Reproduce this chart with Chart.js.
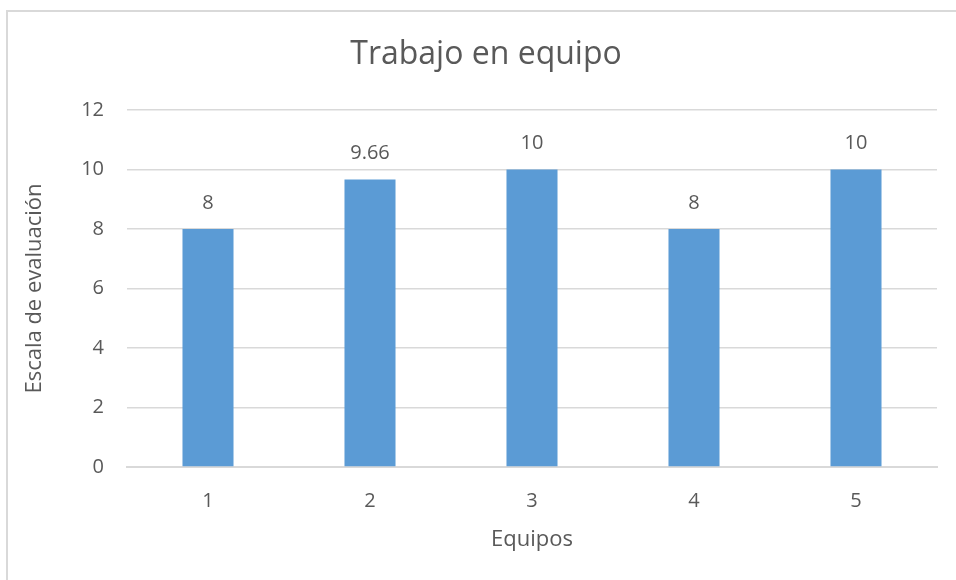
<!DOCTYPE html>
<html>
<head>
<meta charset="utf-8">
<script src="https://cdn.jsdelivr.net/npm/chart.js@4"></script>
<style>
html,body{margin:0;padding:0;background:#fff;}
#wrap{width:956px;height:580px;}
</style>
</head>
<body>
<div id="wrap"><canvas id="c" width="956" height="580"></canvas></div>
<script>
const categories = ['1', '2', '3', '4', '5'];
const values = [8, 9.66, 10, 8, 10];
const valueLabels = ['8', '9.66', '10', '8', '10'];
const chartTitle = 'Trabajo en equipo';
const yTitle = 'Escala de evaluación';
const xTitle = 'Equipos';

const FONT = "'Open Sans', sans-serif";
const TEXT = '#595959';
const GRID = '#d9d9d9';

const frame = {
  id: 'frame',
  beforeDraw(chart) {
    const ctx = chart.ctx;
    ctx.save();
    ctx.fillStyle = '#fff';
    ctx.fillRect(0, 0, chart.width, chart.height);
    ctx.strokeStyle = GRID;
    ctx.lineWidth = 2;
    ctx.strokeRect(7, 11, chart.width + 50, chart.height + 50);
    ctx.restore();
  },
  afterDraw(chart) {
    const ctx = chart.ctx;
    ctx.save();
    ctx.fillStyle = TEXT;
    ctx.font = "32px " + FONT;
    ctx.textAlign = 'center';
    ctx.textBaseline = 'middle';
    ctx.fillText(chartTitle, 486, 55);
    ctx.restore();
  }
};

const dataLabels = {
  id: 'dataLabels',
  afterDatasetsDraw(chart) {
    const ctx = chart.ctx;
    const meta = chart.getDatasetMeta(0);
    ctx.save();
    ctx.fillStyle = TEXT;
    ctx.font = "20px " + FONT;
    ctx.textAlign = 'center';
    ctx.textBaseline = 'middle';
    meta.data.forEach((el, i) => {
      ctx.fillText(valueLabels[i], el.x, el.y - 26);
    });
    ctx.restore();
  }
};

new Chart(document.getElementById('c'), {
  type: 'bar',
  data: {
    labels: categories,
    datasets: [{
      data: values,
      backgroundColor: '#5b9bd5',
      borderWidth: 0,
      barPercentage: 0.315,
      categoryPercentage: 1
    }]
  },
  options: {
    responsive: false,
    animation: false,
    events: [],
    layout: { padding: { left: 0, right: 19, top: 110, bottom: 0 } },
    plugins: { legend: { display: false }, title: { display: false }, tooltip: { enabled: false } },
    scales: {
      x: {
        grid: { display: false },
        border: { display: true, color: GRID, width: 2 },
        ticks: { color: TEXT, font: { family: FONT, size: 20 }, padding: 14 },
        title: { display: true, text: xTitle, color: TEXT, font: { family: FONT, size: 22 }, padding: { top: 0, bottom: 26.8 } },
        afterFit(s) { s.height = 113; }
      },
      y: {
        min: 0, max: 12,
        ticks: { stepSize: 2, color: TEXT, font: { family: FONT, size: 20 }, padding: 23 },
        grid: { color: GRID, lineWidth: 1.5, drawTicks: false },
        border: { display: false },
        title: { display: true, text: yTitle, color: TEXT, font: { family: FONT, size: 22 }, padding: { top: 21.8, bottom: 0 } },
        afterFit(s) { s.width = 127; }
      }
    }
  },
  plugins: [frame, dataLabels]
});
</script>
</body>
</html>
